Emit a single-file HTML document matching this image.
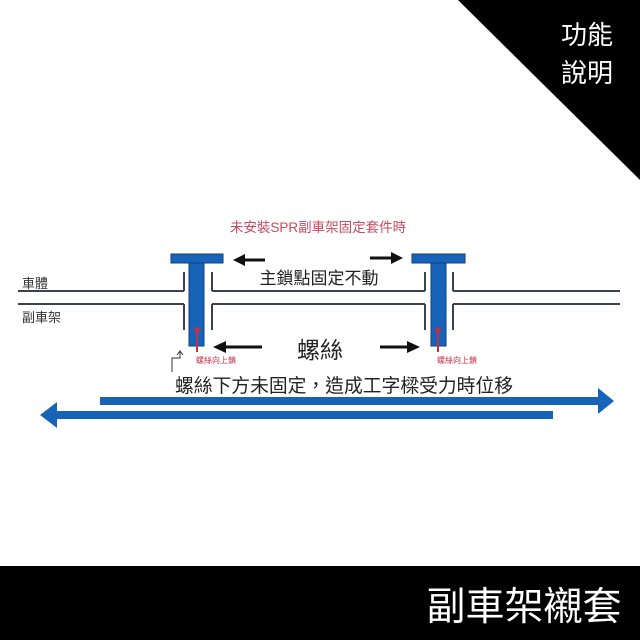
<!DOCTYPE html>
<html><head><meta charset="utf-8"><style>
html,body{margin:0;padding:0;background:#fff;}
svg{display:block;font-family:"Liberation Sans","Noto Sans CJK TC",sans-serif;}
</style></head><body>
<svg width="640" height="640" viewBox="0 0 640 640" xmlns="http://www.w3.org/2000/svg">
<rect width="640" height="640" fill="#fff"/>
<polygon points="458,0 640,0 640,180" fill="#000"/>
<text x="587" y="44" fill="#fff" font-size="26" text-anchor="middle">功能</text>
<text x="587" y="82" fill="#fff" font-size="26" text-anchor="middle">說明</text>
<rect x="0" y="566" width="640" height="74" fill="#000"/>
<text x="524" y="620" fill="#fff" font-size="39" text-anchor="middle">副車架襯套</text>

<text x="318" y="232" fill="#c84a5e" font-size="13.5" text-anchor="middle">未安裝SPR副車架固定套件時</text>

<g stroke="#3a4150" stroke-width="2" fill="none">
<line x1="18" y1="291" x2="184" y2="291"/>
<line x1="18" y1="304" x2="184" y2="304"/>
<line x1="212" y1="291" x2="425" y2="291"/>
<line x1="212" y1="304" x2="425" y2="304"/>
<line x1="453" y1="291" x2="620" y2="291"/>
<line x1="453" y1="304" x2="620" y2="304"/>
<line x1="184" y1="272" x2="184" y2="291"/>
<line x1="184" y1="304" x2="184" y2="330"/>
<line x1="212" y1="272" x2="212" y2="291"/>
<line x1="212" y1="304" x2="212" y2="330"/>
<line x1="425" y1="272" x2="425" y2="291"/>
<line x1="425" y1="304" x2="425" y2="330"/>
<line x1="453" y1="272" x2="453" y2="291"/>
<line x1="453" y1="304" x2="453" y2="330"/>
</g>
<text x="22" y="288" fill="#333" font-size="13">車體</text>
<text x="22" y="322" fill="#333" font-size="13">副車架</text>

<g fill="#1763b8" stroke="#0d3f80" stroke-width="1">
<rect x="171" y="254" width="52" height="9"/>
<rect x="189" y="263" width="15" height="83"/>
<rect x="412" y="254" width="53" height="9"/>
<rect x="431" y="263" width="15" height="83"/>
</g>
<g stroke="#c0304a" stroke-width="2" fill="#c0304a">
<line x1="197" y1="330" x2="197" y2="352"/><circle cx="197" cy="330" r="2"/>
<line x1="438" y1="330" x2="438" y2="352"/><circle cx="438" cy="330" r="2"/>
</g>
<text x="196" y="363" fill="#c0304a" font-size="8">螺絲向上鎖</text>
<text x="437" y="363" fill="#c0304a" font-size="8">螺絲向上鎖</text>
<path d="M172 372 V358 H180 V352" stroke="#333" stroke-width="1" fill="none"/>
<path d="M177 355 L180 351 L183 355" stroke="#333" stroke-width="1" fill="none"/>

<g fill="#111" stroke="#111">
<line x1="243" y1="260" x2="265" y2="260" stroke-width="3"/>
<polygon points="233,260 245,254 245,266" stroke="none"/>
<line x1="370" y1="258" x2="392" y2="258" stroke-width="3"/>
<polygon points="403,258 391,252 391,264" stroke="none"/>
<line x1="225" y1="347" x2="262" y2="347" stroke-width="3"/>
<polygon points="213,347 226,341 226,353" stroke="none"/>
<line x1="380" y1="347" x2="408" y2="347" stroke-width="3"/>
<polygon points="420,347 407,341 407,353" stroke="none"/>
</g>
<text x="319" y="284" fill="#222" font-size="17" text-anchor="middle">主鎖點固定不動</text>
<text x="320" y="358" fill="#222" font-size="23" text-anchor="middle">螺絲</text>
<text x="344" y="392" fill="#222" font-size="18.8" text-anchor="middle">螺絲下方未固定，造成工字樑受力時位移</text>

<g fill="#1763b8">
<rect x="100" y="397" width="500" height="8"/>
<polygon points="598,388 614,401 598,414"/>
<rect x="55" y="411" width="498" height="8"/>
<polygon points="57,402 40,415 57,428"/>
</g>
</svg>
</body></html>
